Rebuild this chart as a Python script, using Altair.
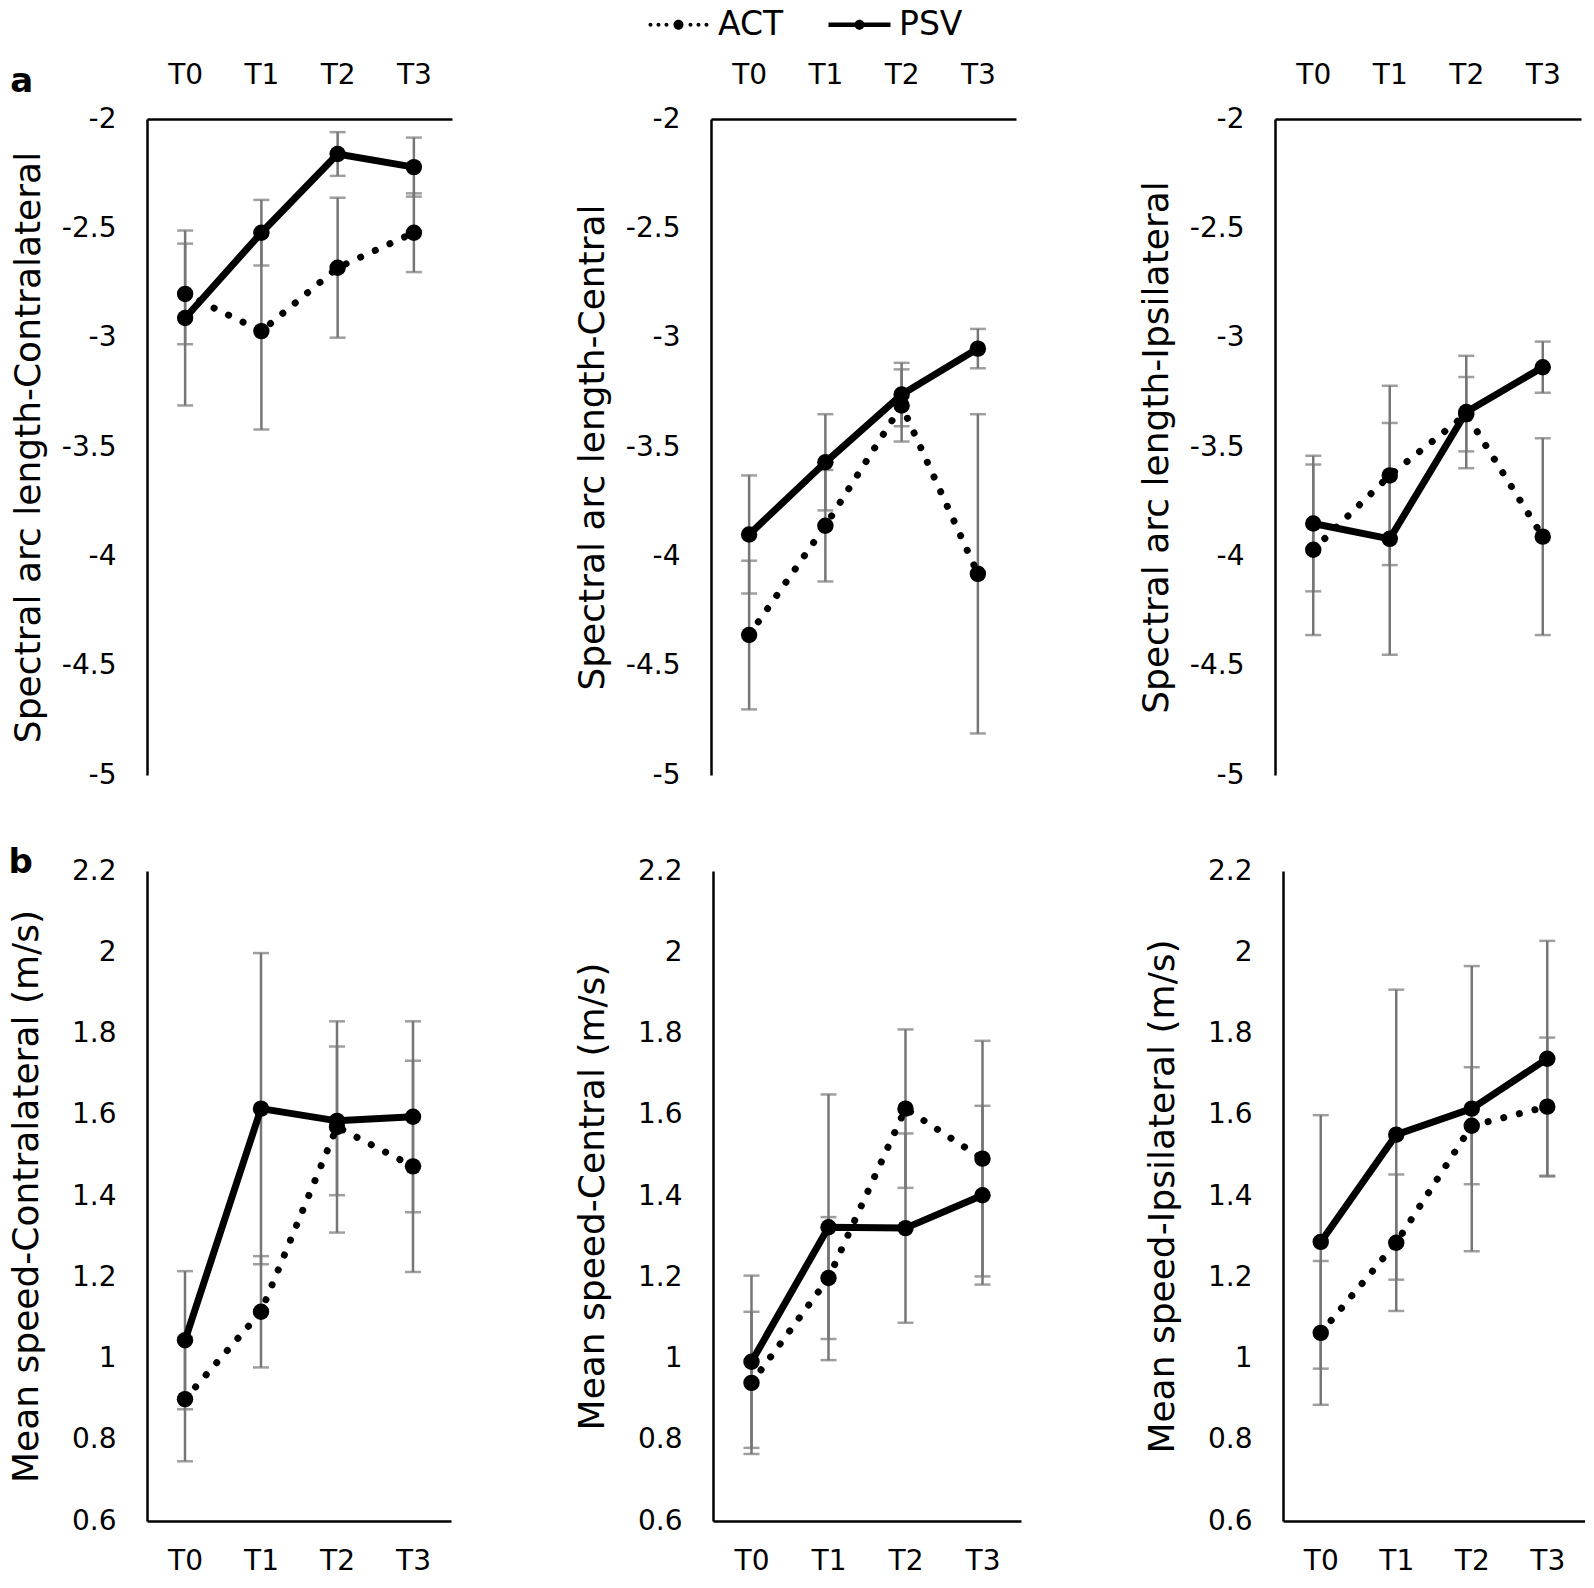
import altair as alt
import pandas as pd

FONT = "DejaVu Sans"
GRAY = "#767676"

times = ["T0", "T1", "T2", "T3"]
groups = ["ACT", "PSV"]

# (a) Spectral arc length
sal_contra_act = [-2.80, -2.97, -2.68, -2.52]
sal_contra_act_err = [0.23, 0.45, 0.32, 0.18]
sal_contra_psv = [-2.91, -2.52, -2.16, -2.22]
sal_contra_psv_err = [0.40, 0.15, 0.10, 0.135]

sal_central_act = [-4.36, -3.86, -3.31, -4.08]
sal_central_act_err = [0.34, 0.255, 0.165, 0.73]
sal_central_psv = [-3.90, -3.57, -3.26, -3.05]
sal_central_psv_err = [0.27, 0.22, 0.145, 0.09]

sal_ipsi_act = [-3.97, -3.63, -3.35, -3.91]
sal_ipsi_act_err = [0.39, 0.41, 0.17, 0.45]
sal_ipsi_psv = [-3.85, -3.92, -3.34, -3.135]
sal_ipsi_psv_err = [0.31, 0.53, 0.257, 0.117]

# (b) Mean speed (m/s)
spd_contra_act = [0.90, 1.115, 1.57, 1.473]
spd_contra_act_err = [0.153, 0.137, 0.26, 0.26]
spd_contra_psv = [1.045, 1.615, 1.585, 1.595]
spd_contra_psv_err = [0.17, 0.383, 0.183, 0.235]

spd_central_act = [0.94, 1.198, 1.615, 1.492]
spd_central_act_err = [0.175, 0.15, 0.195, 0.29]
spd_central_psv = [0.992, 1.323, 1.321, 1.402]
spd_central_psv_err = [0.212, 0.327, 0.233, 0.22]

spd_ipsi_act = [1.063, 1.285, 1.573, 1.62]
spd_ipsi_act_err = [0.177, 0.168, 0.144, 0.17]
spd_ipsi_psv = [1.287, 1.551, 1.615, 1.738]
spd_ipsi_psv_err = [0.312, 0.357, 0.351, 0.29]

sal_ticks = [-5, -4.5, -4, -3.5, -3, -2.5, -2]
spd_ticks = [0.6, 0.8, 1.0, 1.2, 1.4, 1.6, 1.8, 2.0, 2.2]


def circ(cx, r):
    return f"M{cx + r},0A{r},{r},0,1,1,{cx - r},0A{r},{r},0,1,1,{cx + r},0Z"


ACT_PATH = "".join(circ(c, 0.2) for c in [-2.8, -2.0, -1.2, 1.2, 2.0, 2.8]) + circ(0, 0.5)
PSV_PATH = "M-3.1,-0.22L3.1,-0.22L3.1,0.22L-3.1,0.22Z" + circ(0, 0.5)


def make_df(act, act_err, psv, psv_err):
    rows = []
    for g, vals, errs in (("ACT", act, act_err), ("PSV", psv, psv_err)):
        for t, v, e in zip(times, vals, errs):
            rows.append({"time": t, "group": g, "value": v, "lo": v - e, "hi": v + e})
    return pd.DataFrame(rows)


LABEL_EXPR = "datum.value < 0 ? '-' + format(-datum.value, '~g') : format(datum.value, '~g')"


def panel(df, title, top, domain, ticks, width, height, legend=False, title_pad=14):
    xaxis = alt.Axis(orient="top" if top else "bottom", title=None, labelAngle=0,
                     labelFontSize=28, labelPadding=30 if top else 26)
    x = alt.X("time:O", sort=times,
              scale=alt.Scale(type="point", padding=0.5, domain=times), axis=xaxis)
    yscale = alt.Scale(domain=domain, nice=False, zero=False)
    yaxis = alt.Axis(values=ticks, labelExpr=LABEL_EXPR, labelFontSize=28,
                     labelPadding=31, titleFontSize=36, titlePadding=title_pad,
                     titleFontWeight="normal")

    def Y(field):
        return alt.Y(f"{field}:Q", scale=yscale, axis=yaxis, title=title)

    base = alt.Chart(df)
    bars = base.mark_rule(color=GRAY, strokeWidth=2.5).encode(x=x, y=Y("lo"), y2="hi:Q")
    cap_lo = base.mark_tick(color=GRAY, thickness=2.5, size=16).encode(x=x, y=Y("lo"))
    cap_hi = base.mark_tick(color=GRAY, thickness=2.5, size=16).encode(x=x, y=Y("hi"))
    line_act = base.transform_filter("datum.group == 'ACT'").mark_line(
        color="black", strokeWidth=7, strokeDash=[0.1, 16], strokeCap="round"
    ).encode(x=x, y=Y("value"))
    line_psv = base.transform_filter("datum.group == 'PSV'").mark_line(
        color="black", strokeWidth=7
    ).encode(x=x, y=Y("value"))
    pts = base.mark_circle(color="black", size=270, opacity=1).encode(x=x, y=Y("value"))
    layers = [bars, cap_lo, cap_hi, line_act, line_psv, pts]
    if legend:
        leg = base.transform_filter("datum.time == 'T0'").mark_point(
            filled=True, color="black", opacity=0, size=400
        ).encode(
            x=x, y=Y("value"),
            shape=alt.Shape("group:N",
                            scale=alt.Scale(domain=groups, range=[ACT_PATH, PSV_PATH]),
                            legend=alt.Legend(
                                orient="none", legendX=515, legendY=-111,
                                direction="horizontal", title=None,
                                symbolSize=400, symbolOpacity=1,
                                symbolFillColor="black", symbolStrokeWidth=0,
                                labelFontSize=33, labelFont=FONT, labelColor="black",
                                labelOffset=23, columnPadding=44, padding=0)))
        layers.append(leg)
    return alt.layer(*layers).properties(width=width, height=height)


A1 = panel(make_df(sal_contra_act, sal_contra_act_err, sal_contra_psv, sal_contra_psv_err),
           "Spectral arc length-Contralateral", True, [-5, -2], sal_ticks, 305, 656, legend=True)
A2 = panel(make_df(sal_central_act, sal_central_act_err, sal_central_psv, sal_central_psv_err),
           "Spectral arc length-Central", True, [-5, -2], sal_ticks, 305, 656)
A3 = panel(make_df(sal_ipsi_act, sal_ipsi_act_err, sal_ipsi_psv, sal_ipsi_psv_err),
           "Spectral arc length-Ipsilateral", True, [-5, -2], sal_ticks, 306, 656)

B1 = panel(make_df(spd_contra_act, spd_contra_act_err, spd_contra_psv, spd_contra_psv_err),
           "Mean speed-Contralateral (m/s)", False, [0.6, 2.2], spd_ticks, 304, 650, title_pad=26)
B2 = panel(make_df(spd_central_act, spd_central_act_err, spd_central_psv, spd_central_psv_err),
           "Mean speed-Central (m/s)", False, [0.6, 2.2], spd_ticks, 308, 650, title_pad=26)
B3 = panel(make_df(spd_ipsi_act, spd_ipsi_act_err, spd_ipsi_psv, spd_ipsi_psv_err),
           "Mean speed-Ipsilateral (m/s)", False, [0.6, 2.2], spd_ticks, 302, 650, title_pad=26)

top_row = alt.hconcat(A1, A2, A3, spacing=259, bounds="flush",
                      title=alt.TitleParams("a", anchor="start", fontSize=34, fontWeight="bold",
                                            font=FONT, color="black", dx=0, dy=42))
bottom_row = alt.hconcat(B1, B2, B3, spacing=262, bounds="flush",
                         title=alt.TitleParams("b", anchor="start", fontSize=34, fontWeight="bold",
                                               font=FONT, color="black", dx=0, dy=27))

chart = alt.concat(top_row, bottom_row, columns=1, align="none", spacing=57).properties(
    padding={"left": 0, "top": 0, "right": 0, "bottom": 0}
).configure_view(strokeWidth=0).configure_axis(
    domainColor="black", domainWidth=2.5, ticks=False, grid=False,
    labelFont=FONT, titleFont=FONT, labelColor="black", titleColor="black"
)

chart.save("out.html", embed_options={"renderer": "svg", "actions": False})
